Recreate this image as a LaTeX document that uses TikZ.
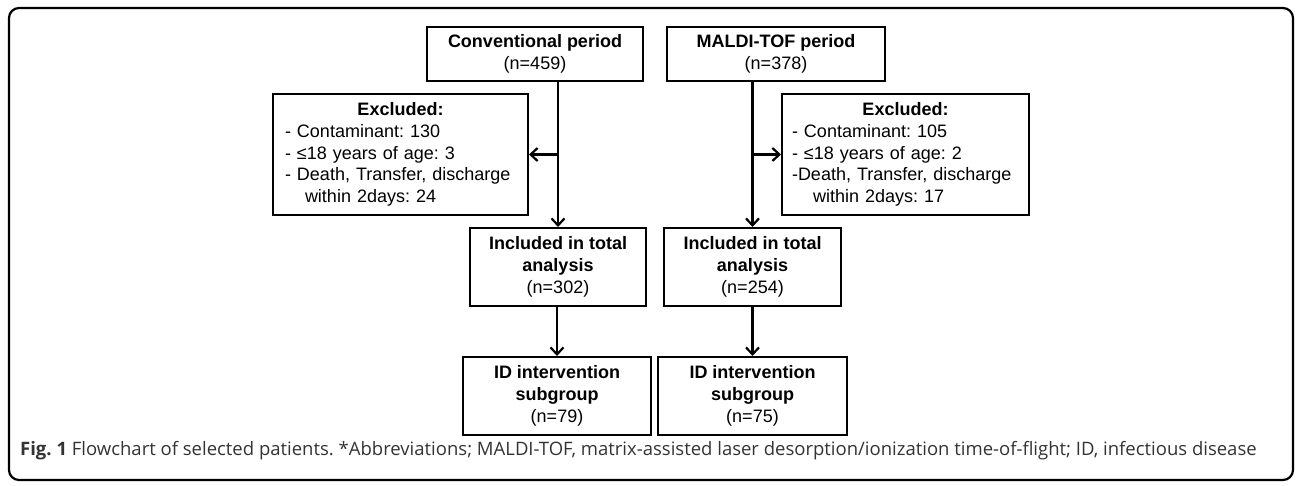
\documentclass[tikz,border=0pt]{standalone}
\usepackage{fontspec}
\setmainfont{Liberation Sans}
\newfontfamily\capfont{Open Sans}
\usetikzlibrary{arrows.meta,positioning,calc}
\definecolor{capgray}{HTML}{333333}
\frenchspacing

\begin{document}
\begin{tikzpicture}[x=1pt,y=-1pt,font=\fontsize{18}{21.7}\selectfont,
  >={Straight Barb[length=7pt,width=13pt]},
  box/.style={draw,line width=2pt,align=center,inner sep=0pt},
  exbox/.style={box,align=left,minimum height=121pt},
  link/.style={->,line width=2.2pt}]
\useasboundingbox (0,0) rectangle (1296,486);
\draw[line width=2.2pt,rounded corners=10pt] (9,8) rectangle (1293,480);
% study periods
\node[box,minimum width=216pt,minimum height=54pt] (conv) at (535,54)
  {\textbf{Conventional period}\\(n=459)};
\node[box,minimum width=218pt,minimum height=54pt] (maldi) at (776,54)
  {\textbf{MALDI-TOF period}\\(n=378)};
% exclusions
\node[exbox,text width=231pt,inner xsep=12pt] (exL) at (400.5,154.5)
  {\makebox[\hsize]{\textbf{Excluded:}}\\- Contaminant: 130\\- ≤18 years of age: 3\\
   - Death, Transfer, discharge\\\hspace*{20pt}within 2days: 24};
\node[exbox,text width=227pt,inner xsep=10pt] (exR) at (905.5,154.5)
  {\makebox[\hsize]{\textbf{Excluded:}}\\- Contaminant: 105\\- ≤18 years of age: 2\\
   -Death, Transfer, discharge\\\hspace*{21pt}within 2days: 17};
% analysed groups
\node[box,minimum width=176pt,minimum height=78pt] (incL) at (558,267)
  {\textbf{Included in total}\\\textbf{analysis}\\(n=302)};
\node[box,minimum width=177pt,minimum height=78pt] (incR) at (752.5,267)
  {\textbf{Included in total}\\\textbf{analysis}\\(n=254)};
\node[box,minimum width=188pt,minimum height=78pt] (idL) at (557,396)
  {\textbf{ID intervention}\\\textbf{subgroup}\\(n=79)};
\node[box,minimum width=189pt,minimum height=78pt] (idR) at (752.5,396)
  {\textbf{ID intervention}\\\textbf{subgroup}\\(n=75)};
% arrows
\draw[link] (incL.north |- conv.south) -- (incL.north);
\draw[link] (exL.east -| incL.north) -- (exL.east);
\draw[link] (incR.north |- maldi.south) -- (incR.north);
\draw[link] (exR.west -| incR.north) -- (exR.west);
\draw[link] (incL.south) -- (incL.south -| idL.north) -- (idL.north);
\draw[link] (incR.south) -- (idR.north);
% caption
\node[anchor=base west,inner sep=0pt,font=\capfont\fontsize{18.5}{22}\selectfont,
  text=capgray] (cap) at (20,455)
  {\textbf{Fig. 1} Flowchart of selected patients. *Abbreviations; MALDI-TOF,
   matrix-assisted laser desorption/ionization time-of-flight; ID, infectious disease};
\end{tikzpicture}
\end{document}
